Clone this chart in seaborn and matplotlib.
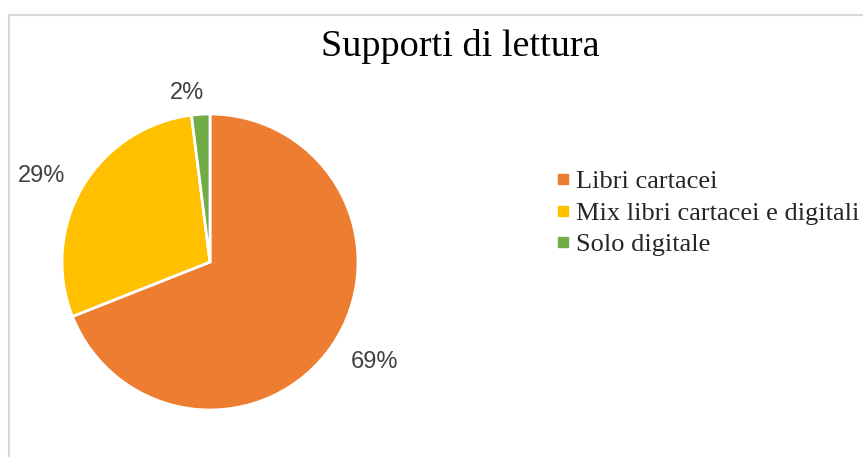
import matplotlib
matplotlib.use("Agg")
import matplotlib.pyplot as plt
from matplotlib.lines import Line2D
from matplotlib.patches import Rectangle
import numpy as np
import seaborn as sns

# Reading formats surveyed
categories = ["Libri cartacei", "Mix libri cartacei e digitali", "Solo digitale"]
shares = [69, 29, 2]
colors = ["#ED7D31", "#FFC000", "#70AD47"]
title = "Supporti di lettura"

sns.set_theme(style="white")
plt.rcParams["font.family"] = ["Liberation Serif", "DejaVu Serif"]

W, H = 863, 457
fig = plt.figure(figsize=(W / 100, H / 100), dpi=100)
fig.patch.set_facecolor("white")

# Chart frame
fig.patches.append(Rectangle((9 / W, -0.05), 1.0, (H - 14.5) / H + 0.05,
                             transform=fig.transFigure, fill=False,
                             edgecolor="#D9D9D9", linewidth=1.5))

cx, cy, r = 210, 262, 148
ax = fig.add_axes([(cx - r) / W, (H - cy - r) / H, 2 * r / W, 2 * r / H])
wedges, _ = ax.pie(shares, colors=colors, startangle=90, counterclock=False,
                   wedgeprops=dict(edgecolor="white", linewidth=2))
ax.set_xlim(-1, 1)
ax.set_ylim(-1, 1)
ax.set_aspect("equal")
ax.axis("off")

# Percentage labels outside each slice
dist = [1.30, 1.28, 1.15]
offs = [3, 3.5, 4]
for w, v, d, o in zip(wedges, shares, dist, offs):
    ang = np.deg2rad((w.theta1 + w.theta2) / 2 + o)
    ax.text(d * np.cos(ang), d * np.sin(ang), f"{v}%", ha="center", va="center",
            fontsize=17, color="#404040", family=["Liberation Sans", "DejaVu Sans"])

fig.text(460 / W, 1 - 46 / H, title, ha="center", va="center", fontsize=27.5,
         color="black")

handles = [Line2D([], [], linestyle="none", marker="s", markersize=7,
                  markerfacecolor=c, markeredgecolor=c) for c in colors]
leg = fig.legend(handles, categories, loc="center left",
                 bbox_to_anchor=(555 / W, 1 - 213 / H), frameon=False,
                 fontsize=19, handlelength=0.6, handletextpad=0.2,
                 labelspacing=0.3, borderpad=0, borderaxespad=0)

fig.savefig("out.png", dpi=100)
